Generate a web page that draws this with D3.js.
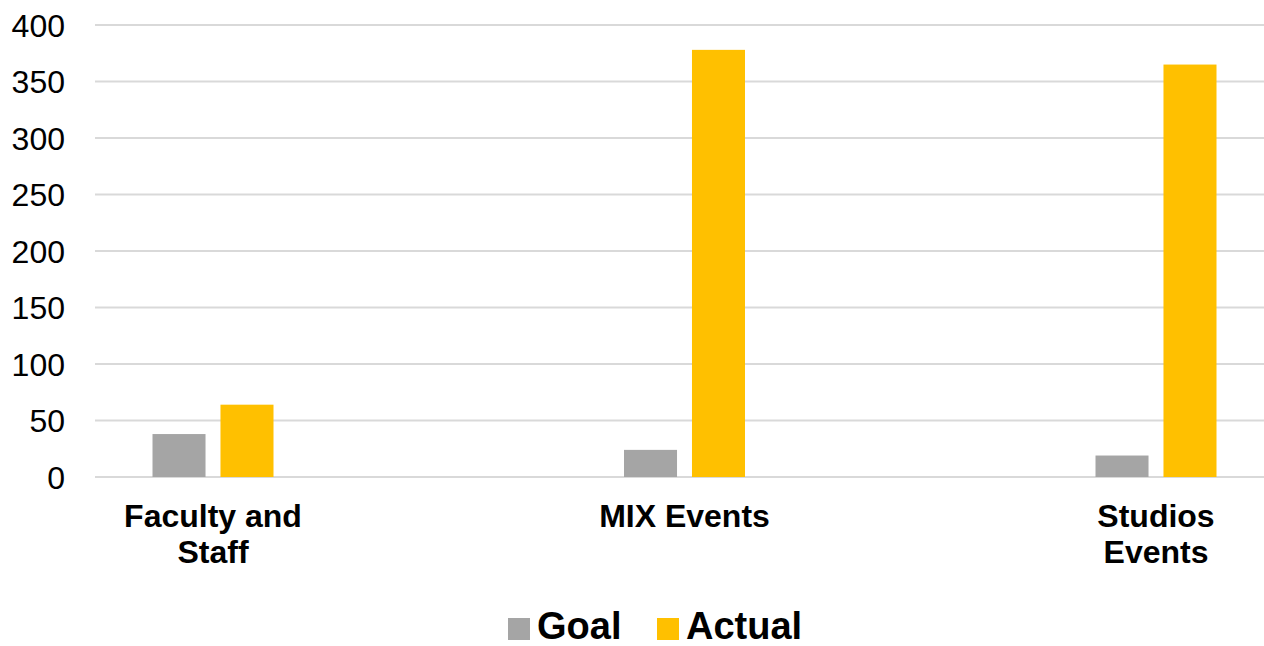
<!DOCTYPE html>
<html><head><meta charset="utf-8">
<script src="https://cdn.jsdelivr.net/npm/d3@7"></script>
<style>html,body{margin:0;padding:0;background:#fff;}svg{display:block;}</style>
</head><body>
<svg id="chart" width="1264" height="646"></svg>
<script>
const categories = ["Faculty and\nStaff", "MIX Events", "Studios\nEvents"];
const seriesNames = ["Goal", "Actual"];
const goalValues = [38, 24, 19];
const actualValues = [64, 378, 365];
const yTicks = [0, 50, 100, 150, 200, 250, 300, 350, 400];
const colors = ["#A5A5A5", "#FFC000"];

const svg = d3.select("#chart");
const font = "'Liberation Sans', Arial, sans-serif";

const y = d3.scaleLinear().domain([0, 400]).range([477, 25]);
const x = d3.scalePoint().domain(categories).range([213, 1156]).padding(0);
const xs = d3.scaleBand().domain(seriesNames).range([-60.5, 60.5]).paddingInner(0.22).paddingOuter(0);

// gridlines
svg.append("g").selectAll("line").data(yTicks).join("line")
  .attr("x1", 95).attr("x2", 1264)
  .attr("y1", d => y(d)).attr("y2", d => y(d))
  .attr("stroke", "#d9d9d9").attr("stroke-width", 2);

// y labels
svg.append("g").selectAll("text").data(yTicks).join("text")
  .attr("x", 65).attr("y", d => y(d)).attr("dy", "0.36em")
  .attr("text-anchor", "end")
  .attr("font-family", font).attr("font-size", 32).attr("fill", "#000")
  .text(d => d);

const data = categories.map((c, i) => ({cat: c, vals: [goalValues[i], actualValues[i]]}));

const groups = svg.append("g").selectAll("g").data(data).join("g")
  .attr("transform", d => `translate(${x(d.cat)},0)`);
groups.selectAll("rect").data(d => d.vals.map((v, j) => ({name: seriesNames[j], v, j}))).join("rect")
  .attr("x", d => xs(d.name)).attr("width", xs.bandwidth())
  .attr("y", d => y(d.v)).attr("height", d => y(0) - y(d.v))
  .attr("fill", d => colors[d.j]);

// x labels
const xl = svg.append("g").selectAll("text").data(categories).join("text")
  .attr("x", d => x(d)).attr("y", 527)
  .attr("text-anchor", "middle")
  .attr("font-family", font).attr("font-size", 32).attr("font-weight", "bold").attr("fill", "#000");
xl.each(function(d) {
  const lines = d.split("\n");
  d3.select(this).selectAll("tspan").data(lines).join("tspan")
    .attr("x", x(d)).attr("dy", (l, i) => i === 0 ? 0 : 36).text(l => l);
});

// legend
const legendX = [508, 657];
const lg = svg.append("g").selectAll("g").data(seriesNames).join("g")
  .attr("transform", (d, i) => `translate(${legendX[i]},618)`);
lg.append("rect").attr("width", 22).attr("height", 22).attr("fill", (d, i) => colors[i]);
lg.append("text").attr("x", 29).attr("y", 21)
  .attr("font-family", font).attr("font-size", 38).attr("font-weight", "bold").attr("fill", "#000")
  .text(d => d);
</script>
</body></html>
